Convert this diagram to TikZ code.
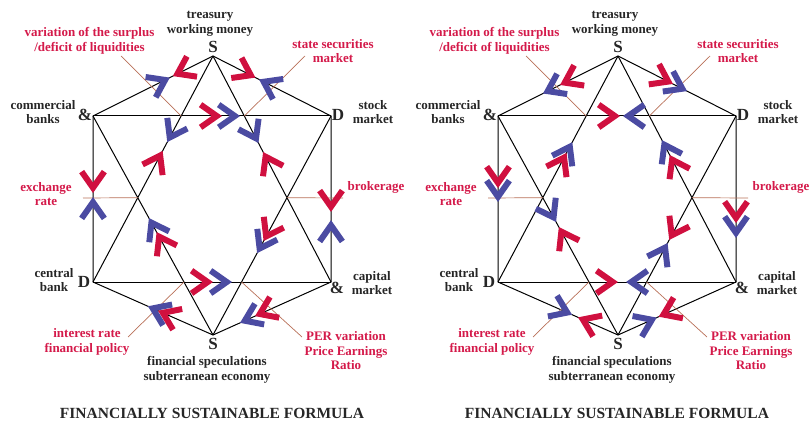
\documentclass[tikz,border=0pt]{standalone}
\usepackage{fontspec}
\setmainfont{Liberation Serif}
\usetikzlibrary{decorations.markings}
\definecolor{cred}{HTML}{D0103F}
\definecolor{cblue}{HTML}{4B4BA2}
\definecolor{ctext}{HTML}{D41A4A}
\definecolor{lead}{HTML}{B87058}
\definecolor{dark}{HTML}{262626}
\tikzset{
 lbl/.style={font=\fontsize{13}{14.5}\selectfont\bfseries, text=dark, align=center, inner sep=0pt},
 rlbl/.style={lbl, text=ctext},
 vtx/.style={font=\fontsize{17}{17}\selectfont\bfseries, text=dark, inner sep=0pt},
 ttl/.style={font=\fontsize{15.5}{16}\selectfont\bfseries, text=dark, inner sep=0pt},
 edgeline/.style={draw=black, line width=1pt},
 leader/.style={draw=lead, line width=0.7pt},
}
\newcommand\chv[5]{\path[decorate,decoration={markings,mark=at position #3 with {\begin{scope}[rotate=#5]\fill[#4] (0pt,0pt)--(-19.7pt,13.8pt)--(-23.1pt,8.9pt)--(-10.45pt,0pt)--(-23.1pt,-8.9pt)--(-19.7pt,-13.8pt)--cycle;\end{scope}}}] (#1)--(#2);}
\newcommand\skel{%
 \coordinate (St) at (213,56);
 \coordinate (Cb) at (93,116);
 \coordinate (Sm) at (331,116);
 \coordinate (Cn) at (93,282);
 \coordinate (Cm) at (331,282);
 \coordinate (Sb) at (213,335);
 \draw[edgeline] (St)--(Cb)--(Cn)--(Sb)--(Cm)--(Sm)--cycle;
 \draw[edgeline] (Cb)--(Sm) (Cn)--(Cm);
 \draw[edgeline] (St)--(Cn) (St)--(Cm) (Cb)--(Sb) (Sm)--(Sb);
 \coordinate (l1) at (121,56);
 \coordinate (l2) at (305,56);
 \coordinate (l3) at (83,198);
 \coordinate (l4) at (343,198);
 \coordinate (l5) at (128,337);
 \coordinate (l6) at (302,337);
 \coordinate (x1) at (intersection of St--Cn and Cb--Sm);
 \coordinate (x2) at (intersection of St--Cm and Cb--Sm);
 \coordinate (x3) at (intersection of St--Cn and Cb--Sb);
 \coordinate (x4) at (intersection of St--Cm and Sm--Sb);
 \coordinate (x5) at (intersection of Cb--Sb and Cn--Cm);
 \coordinate (x6) at (intersection of Sm--Sb and Cn--Cm);
 \draw[leader] (l1)--(x1) (l2)--(x2) (l3)--(x3) (x4)--(l4) (l5)--(x5) (x6)--(l6);
 \node[lbl] (tr) at (210,24) {treasury\\working money};
 \node[vtx] (vS1) at (213,47) {S};
 \node[rlbl] (sur) at (89.5,41) {variation of the surplus\\/deficit of liquidities};
 \node[rlbl] (sec) at (333,51) {state securities\\market};
 \node[lbl] (cbk) at (43,112) {commercial\\banks};
 \node[vtx] (vA1) at (85,115) {\&};
 \node[vtx] (vD1) at (338,115) {D};
 \node[lbl] (stk) at (373,112) {stock\\market};
 \node[rlbl] (exr) at (46,194) {exchange\\rate};
 \node[rlbl] (brk) at (376,187) {brokerage};
 \node[lbl] (cbn) at (54,280) {central\\bank};
 \node[vtx] (vD2) at (84,282) {D};
 \node[vtx] (vA2) at (337,288) {\&};
 \node[lbl] (cap) at (372,283) {capital\\market};
 \node[vtx] (vS2) at (213,344) {S};
 \node[lbl] (fin) at (207,370) {financial speculations\\subterranean economy};
 \node[rlbl] (irt) at (87,342) {interest rate\\financial policy};
 \node[rlbl] (per) at (346,351) {PER variation\\Price Earnings\\Ratio};
 \node[ttl] (title) at (212,413) {FINANCIALLY SUSTAINABLE FORMULA};
}
\begin{document}
\begin{tikzpicture}[x=1pt,y=-1pt]
\useasboundingbox (0,0) rectangle (811,422);
\begin{scope}[name prefix=L-]
 \skel
 \chv{St}{Cb}{0.335}{cred}{0} \chv{St}{Cb}{0.36}{cblue}{180}
 \chv{St}{Sm}{0.36}{cred}{0} \chv{St}{Sm}{0.39}{cblue}{180}
 \chv{Cb}{Sm}{0.542}{cred}{0} \chv{Cb}{Sm}{0.618}{cblue}{0}
 \chv{St}{Cn}{0.381}{cblue}{0} \chv{St}{Cn}{0.420}{cred}{180}
 \chv{St}{Cm}{0.385}{cblue}{0} \chv{St}{Cm}{0.425}{cred}{180}
 \chv{Cb}{Cn}{0.464}{cred}{0} \chv{Cb}{Cn}{0.488}{cblue}{180}
 \chv{Sm}{Cm}{0.578}{cred}{0} \chv{Sm}{Cm}{0.627}{cblue}{180}
 \chv{Cb}{Sb}{0.466}{cblue}{180} \chv{Cb}{Sb}{0.530}{cred}{180}
 \chv{Sm}{Sb}{0.571}{cred}{0} \chv{Sm}{Sb}{0.626}{cblue}{0}
 \chv{Cn}{Cm}{0.504}{cred}{0} \chv{Cn}{Cm}{0.584}{cblue}{0}
 \chv{Cn}{Sb}{0.458}{cblue}{180} \chv{Cn}{Sb}{0.542}{cred}{180}
 \chv{Cm}{Sb}{0.644}{cred}{0} \chv{Cm}{Sb}{0.771}{cblue}{0}
\end{scope}
\begin{scope}[xshift=405pt, name prefix=R-]
 \skel
 \chv{St}{Cb}{0.483}{cred}{0} \chv{St}{Cb}{0.625}{cblue}{0}
 \chv{St}{Sm}{0.466}{cred}{0} \chv{St}{Sm}{0.585}{cblue}{0}
 \chv{Cb}{Sm}{0.513}{cred}{0} \chv{Cb}{Sm}{0.525}{cblue}{180}
 \chv{St}{Cn}{0.381}{cblue}{180} \chv{St}{Cn}{0.429}{cred}{180}
 \chv{St}{Cm}{0.372}{cblue}{180} \chv{St}{Cm}{0.438}{cred}{180}
 \chv{Cb}{Cn}{0.434}{cred}{0} \chv{Cb}{Cn}{0.518}{cblue}{0}
 \chv{Sm}{Cm}{0.645}{cred}{0} \chv{Sm}{Cm}{0.735}{cblue}{0}
 \chv{Cb}{Sb}{0.484}{cblue}{0} \chv{Cb}{Sb}{0.507}{cred}{180}
 \chv{Sm}{Sb}{0.566}{cred}{0} \chv{Sm}{Sb}{0.580}{cblue}{180}
 \chv{Cn}{Cm}{0.504}{cred}{0} \chv{Cn}{Cm}{0.538}{cblue}{180}
 \chv{Cn}{Sb}{0.617}{cblue}{0} \chv{Cn}{Sb}{0.667}{cred}{180}
 \chv{Cm}{Sb}{0.655}{cred}{0} \chv{Cm}{Sb}{0.672}{cblue}{180}
\end{scope}
\end{tikzpicture}
\end{document}
